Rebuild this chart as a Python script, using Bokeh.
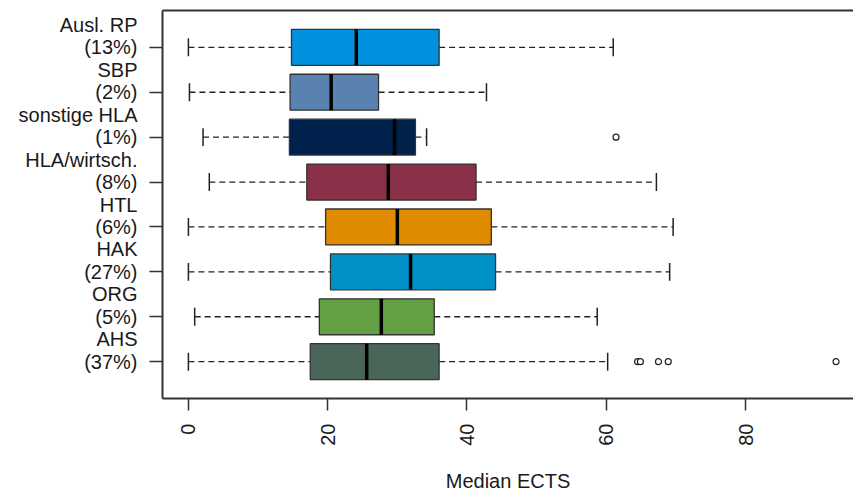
import math
from bokeh.plotting import figure
from bokeh.models import FixedTicker, LinearAxis, Range1d, ColumnDataSource
from bokeh.embed import file_html
from bokeh.resources import INLINE

# ---- data (bottom to top) ----
categories = ["AHS", "ORG", "HAK", "HTL", "HLA/wirtsch.", "sonstige HLA", "SBP", "Ausl. RP"]
shares = ["(37%)", "(5%)", "(27%)", "(6%)", "(8%)", "(1%)", "(2%)", "(13%)"]
whisker_lo = [0.0, 0.9, 0.0, 0.0, 3.0, 2.1, 0.15, 0.0]
q1 = [17.5, 18.8, 20.4, 19.7, 17.0, 14.5, 14.6, 14.8]
median = [25.6, 27.7, 31.9, 30.0, 28.7, 29.6, 20.5, 24.1]
q3 = [36.0, 35.3, 44.1, 43.5, 41.3, 32.6, 27.3, 36.0]
whisker_hi = [60.2, 58.7, 69.1, 69.6, 67.2, 34.2, 42.8, 61.0]
colors = ["#4a6659", "#62a043", "#0091c8", "#e08a00", "#8b3049", "#00214b", "#5a82b0", "#0092de"]
outlier_group = ["AHS", "AHS", "AHS", "AHS", "AHS", "sonstige HLA"]
outlier_values = [64.5, 64.9, 67.5, 68.9, 93.0, 61.4]
x_ticks = [0, 20, 40, 60, 80]

FONT = "Liberation Sans"
AX = "#333333"

pos = list(range(1, len(categories) + 1))
box_w = 0.8
cap_w = 0.4

src = ColumnDataSource(dict(
    pos=pos, lo=whisker_lo, q1=q1, med=median, q3=q3, hi=whisker_hi, color=colors,
    ylo=[p_ - box_w / 2 for p_ in pos], yhi=[p_ + box_w / 2 for p_ in pos],
    clo=[p_ - cap_w / 2 for p_ in pos], chi=[p_ + cap_w / 2 for p_ in pos],
))
out_src = ColumnDataSource(dict(
    x=outlier_values,
    y=[pos[categories.index(g)] for g in outlier_group],
))

p = figure(width=853, height=494,
           x_range=Range1d(-3.72, 95.5), y_range=Range1d(0.18, 8.82),
           output_backend="svg", toolbar_location=None,
           min_border_left=162, min_border_right=0, min_border_top=10, min_border_bottom=95)
p.outline_line_color = None
p.grid.visible = False
p.background_fill_color = "white"
p.border_fill_color = "white"

# whiskers
p.segment(x0="lo", y0="pos", x1="q1", y1="pos", source=src, line_color="#222222",
          line_width=1.3, line_dash="6 4")
p.segment(x0="q3", y0="pos", x1="hi", y1="pos", source=src, line_color="#222222",
          line_width=1.3, line_dash="6 4")
# caps
p.segment(x0="lo", y0="clo", x1="lo", y1="chi", source=src, line_color="#222222", line_width=1.5)
p.segment(x0="hi", y0="clo", x1="hi", y1="chi", source=src, line_color="#222222", line_width=1.5)
# boxes
p.hbar(y="pos", left="q1", right="q3", height=box_w, source=src, fill_color="color",
       line_color="#333333", line_width=1.3)
# medians
p.segment(x0="med", y0="ylo", x1="med", y1="yhi", source=src, line_color="black", line_width=3.5)
# outliers
p.scatter(x="x", y="y", source=out_src, marker="circle", size=6, fill_color="white",
          line_color="#222222", line_width=1.2)

# x axis
xa = p.xaxis[0]
xa.ticker = FixedTicker(ticks=x_ticks)
xa.major_label_orientation = math.pi / 2
xa.major_tick_out = 12
xa.major_tick_in = 0
xa.minor_tick_line_color = None
xa.major_label_standoff = 13
xa.axis_label = "Median ECTS"
xa.axis_label_standoff = 21
xa.axis_label_text_font = FONT
xa.axis_label_text_font_size = "20px"
xa.axis_label_text_font_style = "normal"
xa.axis_label_text_color = "#1a1a1a"

# y axis: names at pos+0.5, shares at pos; tick marks as minor ticks at pos
ya = p.yaxis[0]
tick_vals = []
overrides = {}
for i, pp in enumerate(pos):
    tick_vals += [pp, pp + 0.5]
    overrides[pp] = shares[i]
    overrides[pp + 0.5] = categories[i]
ya.ticker = FixedTicker(ticks=tick_vals, minor_ticks=pos)
ya.major_label_overrides = overrides
ya.major_tick_out = 0
ya.major_tick_in = 0
ya.minor_tick_out = 13
ya.minor_tick_in = 0
ya.minor_tick_line_color = AX
ya.minor_tick_line_width = 1.5
ya.major_label_standoff = 12

for ax in [xa, ya]:
    ax.major_label_text_font = FONT
    ax.major_label_text_font_size = "20px"
    ax.major_label_text_color = "#1a1a1a"
    ax.axis_line_color = AX
    ax.axis_line_width = 2
    ax.major_tick_line_width = 1.5
    ax.major_tick_line_color = AX if ax is xa else None

# top frame line
top = LinearAxis(ticker=FixedTicker(ticks=[0]), major_tick_line_color=None,
                 major_tick_out=0, major_tick_in=0, major_label_standoff=0,
                 minor_tick_line_color=None, major_label_text_font_size="0px",
                 major_label_text_color=None,
                 axis_line_color=AX, axis_line_width=2)
p.add_layout(top, "above")

open("out.html", "w").write(file_html(p, INLINE))
